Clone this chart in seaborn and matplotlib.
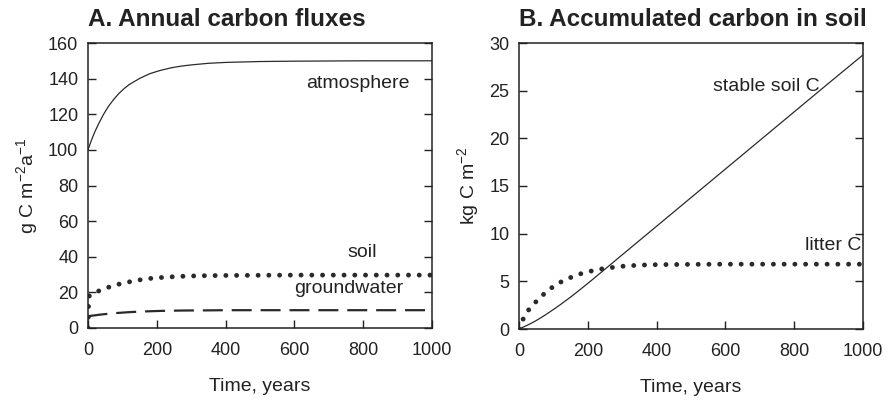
import matplotlib
matplotlib.use("Agg")
import matplotlib.pyplot as plt
import seaborn as sns
import pandas as pd

years = [0, 2, 5, 10, 20, 30, 45, 60, 75, 90, 105, 120, 150, 180, 210, 240,
         270, 300, 350, 400, 500, 600, 700, 800, 900, 1000]

atmosphere = [100, 101.1, 102.8, 105.4, 110.2, 114.3, 119.9, 124.6, 128.4, 131.7,
              134.4, 136.7, 140.1, 142.8, 144.6, 146.0, 147.0, 147.7, 148.6, 149.1,
              149.6, 149.8, 149.9, 150, 150, 150]
soil = [0, 17.5, 18.3, 18.9, 19.9, 20.7, 21.8, 22.9, 23.9, 24.6, 25.3, 25.9, 27.0,
        27.8, 28.3, 28.7, 29.0, 29.2, 29.4, 29.5, 29.6, 29.7, 29.7, 29.7, 29.7, 29.7]
groundwater = [6, 6.5, 6.7, 6.9, 7.1, 7.4, 7.7, 8.0, 8.3, 8.5, 8.7, 8.9, 9.2, 9.4,
               9.6, 9.7, 9.8, 9.85, 9.9, 10, 10, 10, 10, 10, 10, 10]

stable_soil = [0, 0.03, 0.08, 0.16, 0.33, 0.5, 0.78, 1.1, 1.44, 1.8, 2.17, 2.55,
               3.35, 4.2, 5.08, 5.98, 6.88, 7.78, 9.28, 10.78, 13.78, 16.78, 19.78,
               22.78, 25.78, 28.75]
litter = [0, 0.2, 0.45, 0.9, 1.6, 2.1, 2.7, 3.25, 3.75, 4.2, 4.58, 4.9, 5.4, 5.8,
          6.08, 6.3, 6.45, 6.58, 6.7, 6.75, 6.78, 6.8, 6.8, 6.8, 6.8, 6.8]

title_a = "A. Annual carbon fluxes"
title_b = "B. Accumulated carbon in soil"
xlabel = "Time, years"
ylabel_a = "g C m$^{-2}$a$^{-1}$"
ylabel_b = "kg C m$^{-2}$"

df = pd.DataFrame({"year": years, "atmosphere": atmosphere, "soil": soil,
                   "groundwater": groundwater, "stable": stable_soil,
                   "litter": litter})

sns.set_style("ticks")
plt.rcParams["font.family"] = ["Liberation Sans", "DejaVu Sans"]
plt.rcParams["mathtext.fontset"] = "custom"
plt.rcParams["mathtext.rm"] = "Liberation Sans"
plt.rcParams["mathtext.it"] = "Liberation Sans"

fig = plt.figure(figsize=(8.88, 4.01), dpi=100)
ax1 = fig.add_axes([88 / 888, 1 - 328 / 401, 344 / 888, 285 / 401])
ax2 = fig.add_axes([519 / 888, 1 - 329 / 401, 344 / 888, 286 / 401])

col = "#2a2a2a"
txt = "#222222"
dotted = (0, (0.01, 2.2))

sns.lineplot(data=df, x="year", y="atmosphere", ax=ax1, color=col, linewidth=0.9)
sns.lineplot(data=df, x="year", y="soil", ax=ax1, color=col, linewidth=3.5,
             linestyle=dotted, dash_capstyle="round")
sns.lineplot(data=df, x="year", y="groundwater", ax=ax1, color=col, linewidth=1.6,
             linestyle=(0, (9, 4)))

sns.lineplot(data=df, x="year", y="stable", ax=ax2, color=col, linewidth=0.9)
sns.lineplot(data=df, x="year", y="litter", ax=ax2, color=col, linewidth=3.5,
             linestyle=dotted, dash_capstyle="round")

for ax, ymax, step, t, yl in [(ax1, 160, 20, title_a, ylabel_a),
                              (ax2, 30, 5, title_b, ylabel_b)]:
    ax.set_xlim(0, 1000)
    ax.set_ylim(0, ymax)
    ax.set_xticks(range(0, 1001, 200))
    ax.set_yticks(range(0, ymax + 1, step))
    ax.tick_params(direction="in", left=True, right=True, bottom=True, top=False,
                   labelsize=13, length=6, width=1, colors=txt, pad=7)
    ax.tick_params(axis="x", pad=10)
    for s in ax.spines.values():
        s.set_visible(True)
        s.set_linewidth(1.1)
        s.set_color(txt)
    ax.set_title(t, fontsize=17.5, fontweight="bold", pad=12, color=txt, loc="left")
    ax.set_xlabel(xlabel, fontsize=14, labelpad=14, color=txt)
    ax.set_ylabel(yl, fontsize=14, labelpad=6, color=txt)

ax1.text(935, 137, "atmosphere", ha="right", va="center", fontsize=14, color=txt)
ax1.text(797, 42.5, "soil", ha="center", va="center", fontsize=14, color=txt)
ax1.text(916, 22, "groundwater", ha="right", va="center", fontsize=14, color=txt)
ax2.text(875, 25.4, "stable soil C", ha="right", va="center", fontsize=14, color=txt)
ax2.text(994, 8.8, "litter C", ha="right", va="center", fontsize=14, color=txt)

fig.savefig("out.png", dpi=100)
